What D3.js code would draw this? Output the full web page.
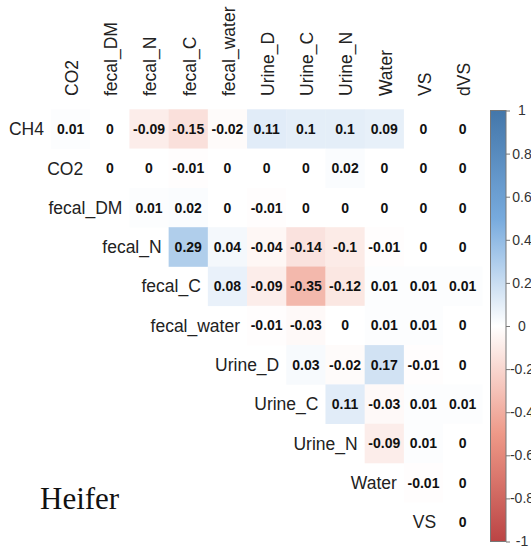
<!DOCTYPE html>
<html>
<head>
<meta charset="utf-8">
<script src="https://cdn.jsdelivr.net/npm/d3@7"></script>
<style>
  body { margin: 0; background: #fff; }
  svg { display: block; }
</style>
</head>
<body>
<script>
// variables of the correlation matrix (upper triangle)
const rowNames = ["CH4", "CO2", "fecal_DM", "fecal_N", "fecal_C", "fecal_water",
                  "Urine_D", "Urine_C", "Urine_N", "Water", "VS"];
const colNames = ["CO2", "fecal_DM", "fecal_N", "fecal_C", "fecal_water",
                  "Urine_D", "Urine_C", "Urine_N", "Water", "VS", "dVS"];

// each row starts at its own diagonal column
const rCH4        = [0.01, 0, -0.09, -0.15, -0.02, 0.11, 0.1, 0.1, 0.09, 0, 0];
const rCO2        = [0, 0, -0.01, 0, 0, 0, 0.02, 0, 0, 0];
const rFecalDM    = [0.01, 0.02, 0, -0.01, 0, 0, 0, 0, 0];
const rFecalN     = [0.29, 0.04, -0.04, -0.14, -0.1, -0.01, 0, 0];
const rFecalC     = [0.08, -0.09, -0.35, -0.12, 0.01, 0.01, 0.01];
const rFecalWater = [-0.01, -0.03, 0, 0.01, 0.01, 0];
const rUrineD     = [0.03, -0.02, 0.17, -0.01, 0];
const rUrineC     = [0.11, -0.03, 0.01, 0.01];
const rUrineN     = [-0.09, 0.01, 0];
const rWater      = [-0.01, 0];
const rVS         = [0];
const rows = [rCH4, rCO2, rFecalDM, rFecalN, rFecalC, rFecalWater,
              rUrineD, rUrineC, rUrineN, rWater, rVS];

const legendTicks = [1, 0.8, 0.6, 0.4, 0.2, 0, -0.2, -0.4, -0.6, -0.8, -1];
const panelLabel = "Heifer";

// flatten into cells
const cells = [];
rows.forEach((vals, i) => {
  vals.forEach((v, k) => {
    cells.push({ row: rowNames[i], col: colNames[i + k], value: v });
  });
});

const svg = d3.select("body").append("svg")
  .attr("width", 531)
  .attr("height", 550);

const x = d3.scaleBand().domain(colNames).range([51, 482.3]);
const y = d3.scaleBand().domain(rowNames).range([109.3, 541.6]);

const color = d3.scaleLinear()
  .domain([-1, -0.5, 0, 0.5, 1])
  .range(["#BB4444", "#EE9988", "#FFFFFF", "#77AADD", "#4477AA"]);

const fmt = v => String(+v.toFixed(2));

// colored cells
svg.append("g").selectAll("rect")
  .data(cells)
  .enter().append("rect")
  .attr("x", d => x(d.col))
  .attr("y", d => y(d.row))
  .attr("width", x.bandwidth() + 0.3)
  .attr("height", y.bandwidth() + 0.3)
  .attr("fill", d => color(d.value));

// coefficients
svg.append("g").selectAll("text")
  .data(cells)
  .enter().append("text")
  .attr("x", d => x(d.col) + x.bandwidth() / 2)
  .attr("y", d => y(d.row) + y.bandwidth() / 2)
  .attr("dy", "0.36em")
  .attr("text-anchor", "middle")
  .attr("font-family", "Liberation Sans, Arial, sans-serif")
  .attr("font-weight", "bold")
  .attr("font-size", 14)
  .attr("fill", "#111")
  .text(d => fmt(d.value));

// column labels (rotated)
svg.append("g").selectAll("text")
  .data(colNames)
  .enter().append("text")
  .attr("transform", d => `translate(${x(d) + x.bandwidth() / 2 + 1},96) rotate(-90)`)
  .attr("dy", "0.36em")
  .attr("text-anchor", "start")
  .attr("font-family", "Liberation Sans, Arial, sans-serif")
  .attr("font-size", 17.5)
  .attr("fill", "#222")
  .text(d => d);

// row labels, right aligned next to the diagonal
svg.append("g").selectAll("text")
  .data(rowNames)
  .enter().append("text")
  .attr("x", (d, i) => x(colNames[i]) - 7)
  .attr("y", d => y(d) + y.bandwidth() / 2)
  .attr("dy", "0.36em")
  .attr("text-anchor", "end")
  .attr("font-family", "Liberation Sans, Arial, sans-serif")
  .attr("font-size", 17.5)
  .attr("fill", "#222")
  .text(d => d);

// color legend
const lg = svg.append("defs").append("linearGradient")
  .attr("id", "cbar")
  .attr("x1", 0).attr("x2", 0).attr("y1", 1).attr("y2", 0);
d3.range(0, 1.0001, 0.05).forEach(t => {
  lg.append("stop")
    .attr("offset", t)
    .attr("stop-color", color(-1 + 2 * t));
});

const ly = d3.scaleLinear().domain([-1, 1]).range([541.5, 110.5]);

svg.append("rect")
  .attr("x", 490.5)
  .attr("y", ly(1))
  .attr("width", 15.5)
  .attr("height", ly(-1) - ly(1))
  .attr("fill", "url(#cbar)")
  .attr("stroke", "#777")
  .attr("stroke-width", 1);

const axis = svg.append("g")
  .attr("transform", "translate(506,0)")
  .call(d3.axisRight(ly).tickValues(legendTicks).tickSize(4).tickFormat(fmt));
axis.select(".domain").remove();
axis.selectAll(".tick line").attr("stroke", "#777");
axis.selectAll(".tick text")
  .attr("x", 16)
  .attr("text-anchor", "middle")
  .attr("font-family", "Liberation Sans, Arial, sans-serif")
  .attr("font-size", 14)
  .attr("fill", "#333");

// panel label
svg.append("text")
  .attr("x", 40)
  .attr("y", 509)
  .attr("font-family", "Liberation Serif, Times New Roman, serif")
  .attr("font-size", 31)
  .attr("fill", "#111")
  .text(panelLabel);
</script>
</body>
</html>
